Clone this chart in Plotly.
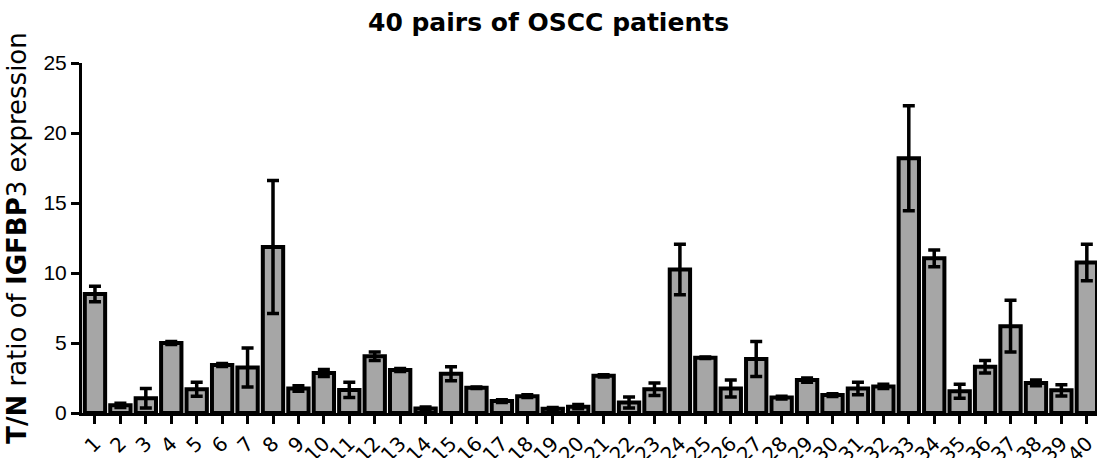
import plotly.graph_objects as go

categories = ["1", "2", "3", "4", "5", "6", "7", "8", "9", "10",
              "11", "12", "13", "14", "15", "16", "17", "18", "19", "20",
              "21", "22", "23", "24", "25", "26", "27", "28", "29", "30",
              "31", "32", "33", "34", "35", "36", "37", "38", "39", "40"]

ratio_mean = [8.5, 0.55, 1.05, 5.0, 1.7, 3.43, 3.25, 11.85, 1.75, 2.85,
              1.65, 4.05, 3.07, 0.32, 2.8, 1.8, 0.85, 1.2, 0.3, 0.45,
              2.66, 0.75, 1.7, 10.25, 3.95, 1.75, 3.85, 1.1, 2.35, 1.28,
              1.75, 1.9, 18.2, 11.05, 1.55, 3.3, 6.2, 2.15, 1.62, 10.75]

ratio_err = [0.55, 0.15, 0.7, 0.1, 0.5, 0.1, 1.4, 4.75, 0.2, 0.25,
             0.55, 0.3, 0.1, 0.1, 0.5, 0.05, 0.1, 0.1, 0.1, 0.15,
             0.08, 0.4, 0.45, 1.8, 0.05, 0.6, 1.25, 0.1, 0.15, 0.1,
             0.45, 0.15, 3.75, 0.6, 0.5, 0.45, 1.85, 0.2, 0.4, 1.3]

y_ticks = [0, 5, 10, 15, 20, 25]

FONT = "Arial, 'Liberation Sans', sans-serif"
WIDE = "'DejaVu Sans', Verdana, sans-serif"

fig = go.Figure()
fig.add_trace(go.Bar(
    x=categories,
    y=ratio_mean,
    marker=dict(color="#A6A6A6", line=dict(color="black", width=4)),
    error_y=dict(type="data", array=ratio_err, visible=True,
                 color="black", thickness=3.5, width=6),
))

fig.update_layout(
    width=1097, height=458,
    paper_bgcolor="white", plot_bgcolor="white",
    margin=dict(l=82, r=0, t=63, b=45),
    bargap=0.2,
    showlegend=False,
    font=dict(family=FONT, color="black"),
    title=dict(text="<b>40 pairs of OSCC patients</b>",
               x=0.5, xref="container", xanchor="center",
               y=1 - 22 / 458, yref="container", yanchor="middle",
               automargin=False,
               font=dict(size=25, family=WIDE, color="black")),
)

fig.update_xaxes(
    type="category",
    range=[-0.51, 39.4],
    automargin=False,
    showline=True, linecolor="black", linewidth=3,
    ticks="outside", ticklen=8, tickwidth=2.5, tickcolor="black",
    tickangle=-45,
    tickfont=dict(size=20, family=WIDE, color="black"),
    showgrid=False, zeroline=False,
)

fig.update_yaxes(
    range=[0, 25],
    tickvals=y_ticks,
    automargin=False,
    showline=True, linecolor="black", linewidth=3,
    ticks="outside", ticklen=8, tickwidth=2.5, tickcolor="black",
    tickfont=dict(size=21, family=FONT, color="black"),
    showgrid=False, zeroline=False,
    title=dict(text="<b>T/N</b> ratio of <b>IGFBP</b>3 expression",
               font=dict(size=26, family=WIDE, color="black"),
               standoff=10),
)

fig.write_html("out.html",
               config={"displayModeBar": False},
               post_script="document.body.style.margin='0';document.body.style.overflow='hidden';")
